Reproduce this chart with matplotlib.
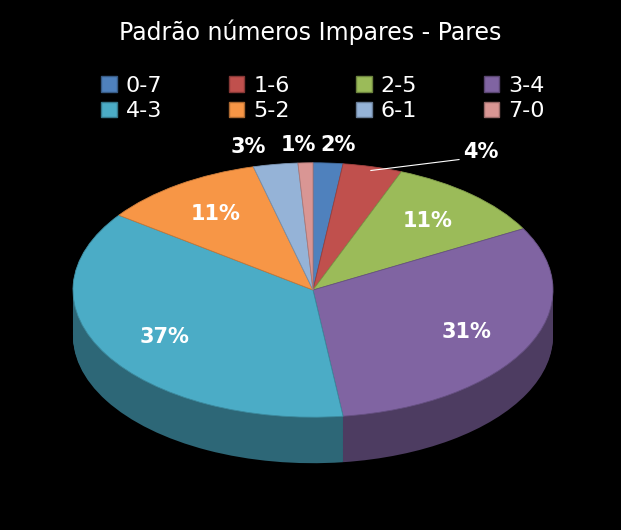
import matplotlib
matplotlib.use("Agg")
import matplotlib.pyplot as plt
import numpy as np
from matplotlib.patches import Wedge, Patch
from matplotlib.transforms import Affine2D

labels = ["0-7", "1-6", "2-5", "3-4", "4-3", "5-2", "6-1", "7-0"]
values = [2, 4, 11, 31, 37, 11, 3, 1]
colors = ["#4F81BD", "#C0504D", "#9BBB59", "#8064A2", "#4BACC6", "#F79646", "#95B3D7", "#D99694"]

fig = plt.figure(figsize=(6.21, 5.30), dpi=100, facecolor="black")
ax = fig.add_axes([0, 0, 1, 1])
ax.set_facecolor("black")
ax.set_xlim(0, 621)
ax.set_ylim(530, 0)
ax.axis("off")

cx, cy, rx, squash, depth = 313, 290, 240, 0.53, 46
total = sum(values)
angles = [90.0]
for v in values:
    angles.append(angles[-1] - 360.0 * v / total)

def shade(c, f):
    rgb = np.array(matplotlib.colors.to_rgb(c))
    return tuple(rgb * f)

# side walls
for k in np.linspace(depth, 0, 40):
    tr = Affine2D().scale(1, -squash).translate(cx, cy + k) + ax.transData
    for i, c in enumerate(colors):
        ax.add_patch(Wedge((0, 0), rx, angles[i + 1], angles[i], facecolor=shade(c, 0.6),
                           edgecolor="none", transform=tr))
# top
tr = Affine2D().scale(1, -squash).translate(cx, cy) + ax.transData
for i, c in enumerate(colors):
    ax.add_patch(Wedge((0, 0), rx, angles[i + 1], angles[i], facecolor=c,
                       edgecolor=shade(c, 0.8), linewidth=0.6, transform=tr))

# percentage labels
for i, v in enumerate(values):
    mid = np.radians((angles[i] + angles[i + 1]) / 2)
    r = 0.72 if v >= 10 else 1.14
    x = cx + r * rx * np.cos(mid)
    y = cy - r * rx * squash * np.sin(mid)
    if v == 4:
        x += 100
        y += 2
        ax.plot([cx + rx * 0.97 * np.cos(mid), x - 22], [cy - rx * squash * 0.97 * np.sin(mid), y + 8],
                color="white", lw=0.8)
    elif v < 10:
        x += {2: 8, 1: -6, 3: -22}.get(v, 0)
    ax.text(x, y, f"{v}%", color="white", fontsize=15, fontweight="bold", ha="center", va="center")

ax.text(310, 32, "Padrão números Impares - Pares", color="white", fontsize=17, ha="center", va="center")
# legend fills column-major, reorder so rows read 0-7 .. 3-4 / 4-3 .. 7-0
order = [0, 4, 1, 5, 2, 6, 3, 7]
handles = [Patch(facecolor=colors[j], edgecolor=shade(colors[j], 0.7)) for j in order]
leg = fig.legend(handles, [labels[j] for j in order], loc="upper center", bbox_to_anchor=(0.52, 0.895),
                 ncol=4, frameon=False, fontsize=16, labelcolor="white", handlelength=0.7,
                 handleheight=0.7, columnspacing=3.0, handletextpad=0.4, labelspacing=0.25)

fig.savefig("out.png", dpi=100, facecolor="black")
